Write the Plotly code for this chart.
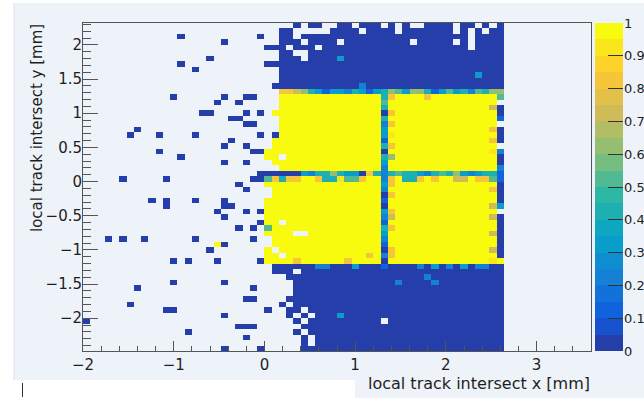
import numpy as np
import plotly.graph_objects as go

# ---------------- binning of the 2D histogram ----------------
x_min, x_max = -2.0, 3.6
y_min, y_max = -2.48, 2.32
bin_w = 0.08
n_x, n_y = 70, 60
dense_col0 = 25  # dense block covers columns 25..57

# value codes: '.' empty, '0' = 0, '1'..'9' ~ 0.1..0.9, 'Y' = 1
code_value = {'0': 0.0, '1': 0.12, '2': 0.22, '3': 0.32, '4': 0.42, '5': 0.52,
              '6': 0.62, '7': 0.72, '8': 0.82, '9': 0.92, 'Y': 1.0}

# rows of the dense block, top row (y=2.24..2.32) first
dense_rows = [
    "....0.00..00.000.0.0..0000.00.0.0",
    "..00.....0000.0000.0000000.0.0.00",
    "..00." "00000" "00000" "00000" "00000" "000" "." "0000",
    "..000.0000.000000000.00000.0.0000",
    "000.000." "00000" "00000" "00000" "00000" "." "0000",
    "..00.." "00000" "00000" "00000" "00000" "00000" "00",
    "..000.00003" "00000" "00000" "00000" "00000" "00",
    "00000" "00000" "00000" "00000" "00000" "00000" "000",
    ".." "00000" "00000" "00000" "00000" "00000" "00000" "0",
    ".." "00000" "00000" "00000" "00000" "00000" "00" "3" "000",
    ".." "00000" "00000" "00000" "00000" "00000" "00000" "0",
    "." "00000" "00000" "00" "2" "00000" "00000" "00000" "0000",
    "..8876431332431346536641353425466",
    ".." "YYYYYYYYYYYYYY" "48" "YYYY8YYYYYYYY" "Y5",
    ".." "YYYYYYYYYYYYYY" "5Y" "YYYYYYYYYYYYY" "Y.",
    ".." "YYYYYYYYYYYYYY" "4Y" "YYYYYYYYYYYYY" "70",
    "." "YYYYYYYYYYYYYYY" "08" "YYYYYYYYYYYYY" "Y0",
    ".." "YYYYYYYYYYYYYY" "4Y" "YYYYYYYYYYYYY" "Y1",
    ".." "YYYYYYYYYYYYYY" "28" "YYYYYYYYYYYYY" "Y.",
    ".." "YYYYYYYYYYYYYY" "3Y" "YYYYYYYYYYYYY" "80",
    ".0" "YYYYYYYYYYYYYY" "39" "YYYYYYYYYYYYY" "Y0",
    "." "YYYYYYYYYYYYYYY" "1Y" "YYYYYYYYYYYYY" "80",
    "." "YYYYYYYYYYYYYYY" "48" "YYYYYYYYYYYYY" "Y.",
    "YYYYYYYYYYYYYYYY" "0Y" "YYYYYYYYYYYYY" "92",
    "YY." "YYYYYYYYYYYYY" "46" "YYYYYYYYYYYYY" "Y0",
    "." "YYYYYYYYYYYYYYY" "3Y" "YYYYYYYYYYYYY" "Y0",
    ".." "YYYYYYYYYYYYYY" "2Y" "YYYYYYYYYYYYY" "Y2",
    "000003244643308424544324546323441",
    "58488YY8449558YY28Y448Y8YY77Y8851",
    "YYYYYYYYYYYYYYYY" "38" "YYYYYYYYYYYYY" "Y0",
    "." "YYYYYYYYYYYYYYY" "2Y" "YYYYYYYYYYYYY" "80",
    "." "YYYYYYYYYYYYYYY" "08" "YYYYYYYYYYYYY" "Y0",
    "YYYYYYYYYYYYYYYY" "1Y" "YYYYYYYYYYYYY" "Y0",
    "YYYYYYYYYYYYYYYY" "0Y" "YYYYYYYYYYYYY" "73",
    "YYYYYYYYYYYYYYYY" "38" "YYYYYYYYYYYYY" "Y.",
    "YYYYYYYYYYYYYYYY" "27" "YYYYYYYYYYYYY" "70",
    "YY." "YYYYYYYYYYYYY" "1Y" "YYYYYYYYYYYYY" "Y0",
    "5" "YYYYYYYYYYYYYYY" "48" "YYYYYYYYYYYYY" "Y0",
    "YYYY.." "YYYYYYYYYY" "3Y" "YYYYYYYYYYYYY" "70",
    "." "YYYYYYYYYYYYYYY" "2Y" "YYYYYYYYYYYYY" "Y0",
    "." "YYYYYYYYYYYYYYY" "1Y" "YYYYYYYYYYYYY" "Y0",
    "Y." "YYYYYYYYYYYYYY" "08" "YYYYYYYYYYYYY" "70",
    "YY." "YYYYYYYYYYY" "8Y" "28" "YYYYYYYYYYYYY" "Y0",
    "YYYY8YYYYYY8YYYY" "0Y" "YYYYYYYYYYYYY" "9Y",
    ".00000022000300010000203020302200",
    ".000." "00000" "00000" "00000" "00000" "00000" "000",
    "...0" "00000" "00000" "00000" "000" "2" "00000" "00000",
    "...." "00000" "00000" "0000" "2" "0000" "2" "00000" "0000",
    "...." "00000" "00000" "00000" "00000" "00000" "0000",
    "...." "00000" "00000" "00000" "00000" "00000" "0000",
    "..." "00000" "00000" "00000" "00000" "00000" "00000",
    "..0." "00000" "00000" "00000" "00000" "00000" "0000",
    "0..00." "00000" "00000" "00000" "00000" "00000" "00",
    "...0.0.0003" "00000" "00000" "00000" "00000" "00",
    "....0." "00000" "00000" "." "00000" "00000" "00000" "0",
    "....." "00000" "00000" "00000" "00000" "00000" "000",
    "....0." "00000" "00000" "00000" "00000" "00000" "00",
    ".....0." "00000" "00000" "00000" "00000" "00000" "0",
    ".....0." "00000" "00000" "00000" "00000" "00000" "0",
    "....." "00000" "00000" "00000" "00000" "00000" "000",
]

# isolated bins in the sparse region (column index, row index from bottom, value)
sparse_col = [13, 24, 19, 17, 13, 15, 12, 19, 22, 23, 18, 21, 16, 17, 22, 24, 20, 21, 22, 23,
              7, 6, 10, 15, 24, 20, 19, 22, 10, 23, 24, 13, 19, 22, 24, 5, 11, 23, 24, 21, 22,
              9, 11, 15, 19, 11, 19, 20, 18, 22, 24, 19, 24, 21, 23,
              3, 5, 8, 15, 23, 18, 19, 17, 12, 14, 18, 24, 12, 19, 7, 23, 22, 23, 6,
              11, 12, 19, 0, 21, 22, 23, 14, 22, 19, 24]
sparse_row = [57, 57, 56, 53, 52, 51, 46, 46, 46, 46, 45, 45, 43, 43, 43, 43, 42, 42, 41, 41,
              40, 39, 39, 39, 39, 38, 37, 37, 36, 36, 36, 35, 34, 34, 32, 31, 31, 31, 31, 30, 29,
              27, 27, 27, 27, 26, 26, 26, 25, 25, 25, 24, 23, 22, 22,
              20, 20, 20, 20, 20, 19, 19, 18, 16, 16, 16, 16, 12, 12, 11, 11, 9, 9, 8,
              7, 7, 6, 5, 4, 4, 4, 3, 2, 0, 0]
sparse_val = [0.0] * len(sparse_col)
sparse_val[60] = 1.0  # the single yellow bin at (col 18,row 19)

bad = [i for i, r in enumerate(dense_rows) if len(r) != 33]
assert not bad, f"bad rows {bad} lens {[len(dense_rows[i]) for i in bad]}"
assert len(dense_rows) == n_y
assert len(sparse_col) == len(sparse_row)

z = np.full((n_y, n_x), np.nan)
for i, s in enumerate(dense_rows):
    r = n_y - 1 - i
    for k, ch in enumerate(s):
        if ch != '.':
            z[r, dense_col0 + k] = code_value[ch]
for c, r, v in zip(sparse_col, sparse_row, sparse_val):
    z[r, c] = v

x_edges = x_min + bin_w * np.arange(n_x + 1)
y_edges = y_min + bin_w * np.arange(n_y + 1)

# ---------------- ROOT kBird palette with 20 contour levels ----------------
bird_stops = [0.0, 0.125, 0.25, 0.375, 0.5, 0.625, 0.75, 0.875, 1.0]
bird_r = [0.2082, 0.0592, 0.0780, 0.0232, 0.1802, 0.5301, 0.8186, 0.9956, 0.9764]
bird_g = [0.1664, 0.3599, 0.5041, 0.6419, 0.7178, 0.7492, 0.7328, 0.7862, 0.9832]
bird_b = [0.5293, 0.8684, 0.8385, 0.7914, 0.6425, 0.4662, 0.3499, 0.1968, 0.0539]
n_levels = 20
colorscale = []
for k in range(n_levels):
    f = min((k + 0.99) / n_levels, 1.0)
    rgb = [int(round(255 * np.interp(f, bird_stops, ch))) for ch in (bird_r, bird_g, bird_b)]
    col = f"rgb({rgb[0]},{rgb[1]},{rgb[2]})"
    colorscale.append([k / n_levels, col])
    colorscale.append([(k + 1) / n_levels, col])

# palette (colour bar) drawn as its own 1-column heatmap
level_edges = np.linspace(0, 1, n_levels + 1)
level_mid = [[(level_edges[k] + level_edges[k + 1]) / 2] for k in range(n_levels)]

cb_vals = [0, 0.1, 0.2, 0.3, 0.4, 0.5, 0.6, 0.7, 0.8, 0.9, 1]
cb_text = ["0", "0.1", "0.2", "0.3", "0.4", "0.5", "0.6", "0.7", "0.8", "0.9", "1"]

FONT = "DejaVu Sans, Liberation Sans, Arial, sans-serif"
TXT = "#1e1e1e"
PANEL = "#eef2f9"
AX = "#555555"

W, H = 644, 398
ML, MR, MT, MB = 83, 21, 23, 47          # full area incl. palette: x 83..623, y 23..351
PW, PH = W - ML - MR, H - MT - MB
FRAME_R = 591                              # right edge of histogram frame (px)
PAL_L = 595                                # left edge of palette (px)


def px_x(px):
    return (px - ML) / PW


def px_y(py):
    return (MT + PH - py) / PH


fig = go.Figure()
fig.add_trace(go.Heatmap(
    z=z, x=x_edges, y=y_edges,
    colorscale=colorscale, zmin=0, zmax=1,
    hoverinfo="skip", showscale=False,
    xaxis="x", yaxis="y",
))
fig.add_trace(go.Heatmap(
    z=level_mid, x=[0, 1], y=level_edges,
    colorscale=colorscale, zmin=0, zmax=1,
    hoverinfo="skip", showscale=False,
    xaxis="x2", yaxis="y2",
))

fig.update_layout(
    width=W, height=H, autosize=False,
    margin=dict(l=ML, r=MR, t=MT, b=MB, pad=0),
    paper_bgcolor="#ffffff",
    plot_bgcolor=PANEL,
    showlegend=False,
    xaxis=dict(
        domain=[0, px_x(FRAME_R)], automargin=False,
        range=[x_min, x_max], tickmode="linear", tick0=0, dtick=1,
        ticks="inside", ticklen=10, tickwidth=1, tickcolor=AX,
        minor=dict(tick0=0, dtick=0.2, ticks="inside", ticklen=5, tickwidth=1, tickcolor=AX),
        showline=True, linecolor=AX, linewidth=1, mirror=True,
        showgrid=False, zeroline=False, ticklabelstandoff=0,
        tickfont=dict(family=FONT, size=15, color=TXT),
    ),
    yaxis=dict(
        domain=[0, 1], automargin=False,
        range=[y_min, y_max], tickmode="linear", tick0=0, dtick=0.5,
        ticks="inside", ticklen=15, tickwidth=1, tickcolor=AX,
        minor=dict(tick0=0, dtick=0.1, ticks="inside", ticklen=8, tickwidth=1, tickcolor=AX),
        showline=True, linecolor=AX, linewidth=1, mirror=True,
        showgrid=False, zeroline=False, ticklabelstandoff=-3,
        tickfont=dict(family=FONT, size=15, color=TXT),
    ),
    xaxis2=dict(domain=[px_x(PAL_L), 1], range=[0, 1], visible=False, anchor="y2",
                automargin=False),
    yaxis2=dict(
        domain=[0, 1], anchor="x2", side="right", range=[0, 1], automargin=False,
        tickmode="array", tickvals=cb_vals, ticktext=cb_text,
        ticks="inside", ticklen=15, tickwidth=1, tickcolor="#333333",
        showline=False, showgrid=False, zeroline=False,
        tickfont=dict(family=FONT, size=13, color=TXT),
    ),
    shapes=[
        dict(type="rect", xref="paper", yref="paper", layer="below",
             x0=px_x(14), x1=px_x(645), y0=px_y(399), y1=px_y(3),
             fillcolor=PANEL, line=dict(width=0)),
        dict(type="rect", xref="paper", yref="paper", layer="below",
             x0=px_x(14), x1=px_x(355), y0=px_y(399), y1=px_y(380),
             fillcolor="#ffffff", line=dict(width=0)),
        dict(type="line", xref="paper", yref="paper", layer="below",
             x0=px_x(14), x1=px_x(14), y0=px_y(380), y1=px_y(3),
             line=dict(color="#dbe2ee", width=1)),
        dict(type="line", xref="paper", yref="paper", layer="above",
             x0=px_x(22.5), x1=px_x(22.5), y0=px_y(397), y1=px_y(383),
             line=dict(color="#333333", width=1)),
    ],
    annotations=[
        dict(text="local track intersect x [mm]", xref="paper", yref="paper",
             x=px_x(FRAME_R), xanchor="right", y=px_y(383), yanchor="middle", showarrow=False,
             borderpad=0, font=dict(family=FONT, size=16, color=TXT)),
        dict(text="local track intersect y [mm]", xref="paper", yref="paper",
             x=px_x(37), xanchor="center", y=1, yanchor="top", showarrow=False,
             borderpad=0, textangle=-90, font=dict(family=FONT, size=15, color=TXT)),
    ],
)

fig.write_html(
    "out.html",
    config={"responsive": False, "displayModeBar": False, "staticPlot": True},
    post_script="document.body.style.margin='0';document.body.style.overflow='hidden';",
)
